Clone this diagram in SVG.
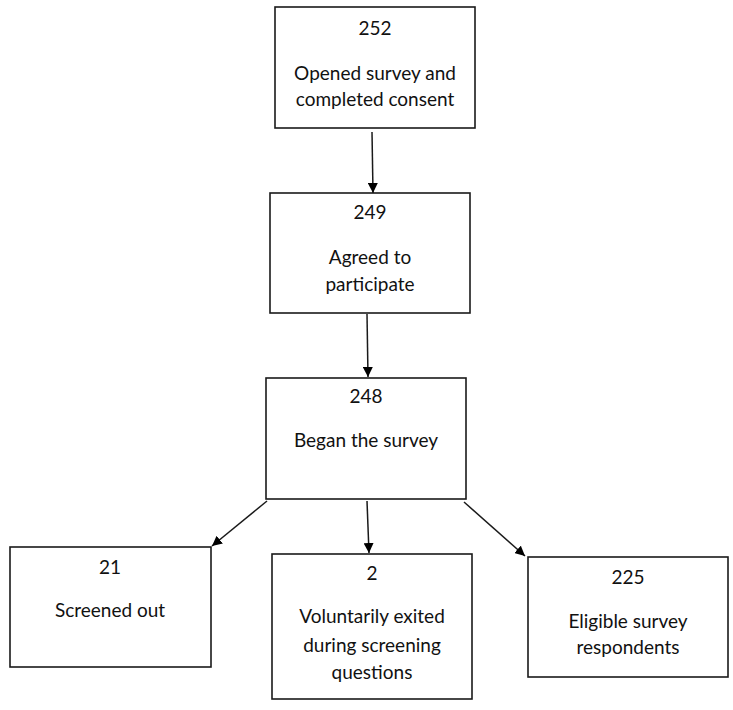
<svg xmlns="http://www.w3.org/2000/svg" width="733" height="710" viewBox="0 0 733 710">
<defs>
<marker id="ah" viewBox="0 0 10 10" refX="10" refY="5" markerWidth="10" markerHeight="10" markerUnits="userSpaceOnUse" orient="auto">
<path d="M0,0 L10,5 L0,10 z" fill="#000"/>
</marker>
<style>
.box{fill:#fff;stroke:#1a1a1a;stroke-width:1.6}
.t{font-family:Lato,"Open Sans",sans-serif;font-size:19px;fill:#111;text-anchor:middle}
.c{stroke:#1a1a1a;stroke-width:1.5;fill:none;marker-end:url(#ah)}
</style>
</defs>
<rect width="733" height="710" fill="#fff"/>
<g id="n252">
<rect class="box" x="275" y="7" width="200" height="121"/>
<text class="t" x="375" y="35">252</text>
<text class="t" x="375" y="80">Opened survey and</text>
<text class="t" x="375" y="106">completed consent</text>
</g>
<g id="n249">
<rect class="box" x="270" y="193" width="200" height="120"/>
<text class="t" x="370" y="219">249</text>
<text class="t" x="370" y="264">Agreed to</text>
<text class="t" x="370" y="291">participate</text>
</g>
<g id="n248">
<rect class="box" x="266" y="378" width="200" height="121"/>
<text class="t" x="366" y="403">248</text>
<text class="t" x="366" y="447">Began the survey</text>
</g>
<g id="n21">
<rect class="box" x="10" y="547" width="201" height="120"/>
<text class="t" x="110" y="574">21</text>
<text class="t" x="110" y="617">Screened out</text>
</g>
<g id="n2">
<rect class="box" x="272" y="554" width="200" height="145"/>
<text class="t" x="372" y="580">2</text>
<text class="t" x="372" y="623">Voluntarily exited</text>
<text class="t" x="372" y="652">during screening</text>
<text class="t" x="372" y="679">questions</text>
</g>
<g id="n225">
<rect class="box" x="528" y="557" width="200" height="120"/>
<text class="t" x="628" y="584">225</text>
<text class="t" x="628" y="628">Eligible survey</text>
<text class="t" x="628" y="654">respondents</text>
</g>
<g id="connectors">
<line class="c" x1="372" y1="132" x2="373" y2="193"/>
<line class="c" x1="367" y1="314" x2="368" y2="377"/>
<line class="c" x1="267" y1="501" x2="212" y2="546"/>
<line class="c" x1="367" y1="501" x2="369" y2="553"/>
<line class="c" x1="464" y1="502" x2="525" y2="556"/>
</g>
</svg>
